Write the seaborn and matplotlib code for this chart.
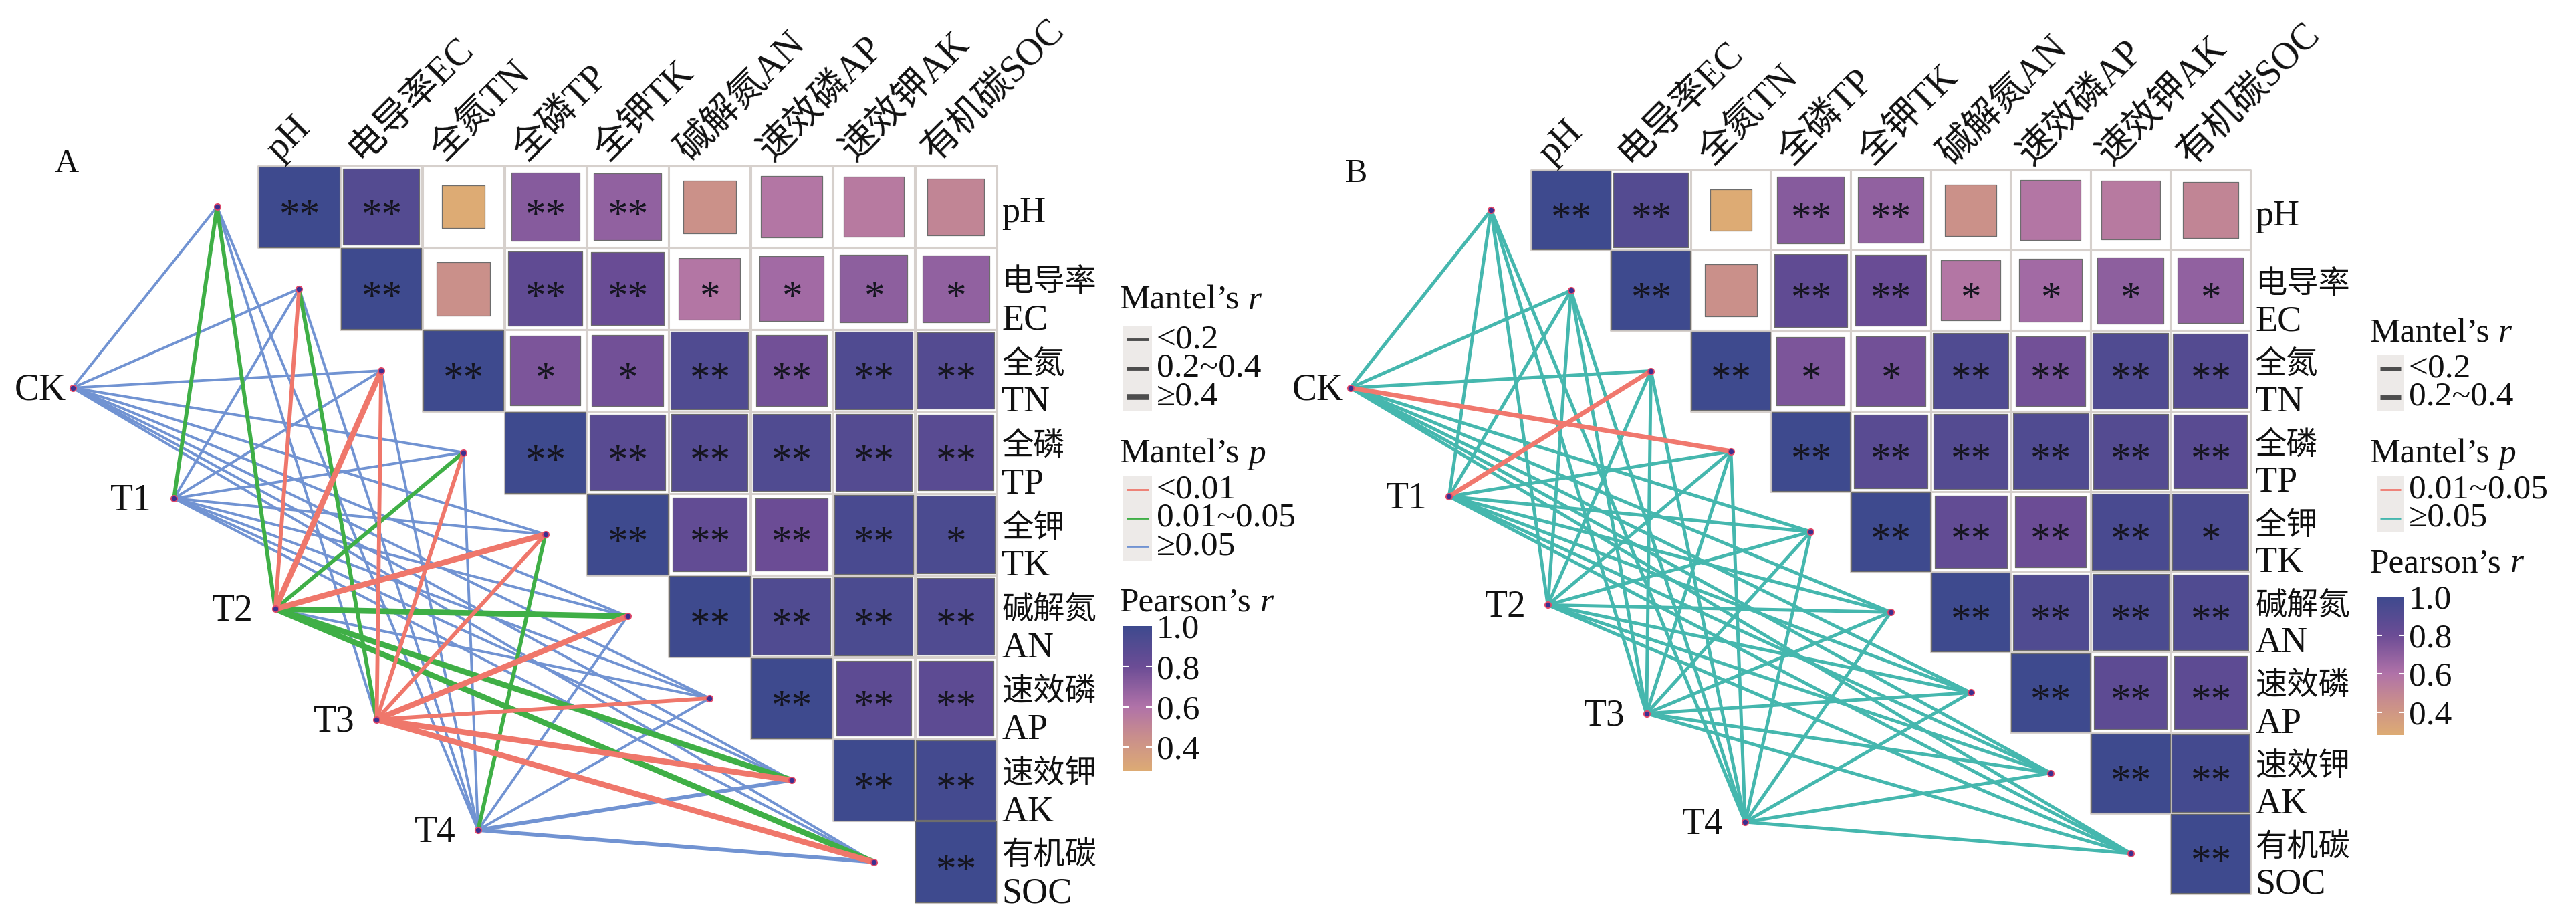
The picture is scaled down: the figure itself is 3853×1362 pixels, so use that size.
import numpy as np
import pandas as pd
import matplotlib
matplotlib.use("Agg")
import matplotlib.pyplot as plt
import seaborn as sns
from matplotlib.colors import LinearSegmentedColormap, Normalize
from matplotlib.cm import ScalarMappable
from matplotlib.patches import Rectangle

# ------------------------------------------------------------------ data
col_labels = ["pH", "电导率EC", "全氮TN", "全磷TP", "全钾TK", "碱解氮AN", "速效磷AP", "速效钾AK", "有机碳SOC"]
row_cn = ["", "电导率", "全氮", "全磷", "全钾", "碱解氮", "速效磷", "速效钾", "有机碳"]
row_en = ["pH", "EC", "TN", "TP", "TK", "AN", "AP", "AK", "SOC"]
groups = ["CK", "T1", "T2", "T3", "T4"]

# Pearson's r, upper triangle (row i, columns i..8)
pearson_r = [
    [1.00, 0.90, 0.28, 0.72, 0.69, 0.43, 0.58, 0.56, 0.50],
    [1.00, 0.44, 0.85, 0.81, 0.58, 0.64, 0.70, 0.69],
    [1.00, 0.75, 0.78, 0.92, 0.78, 0.92, 0.90],
    [1.00, 0.88, 0.90, 0.92, 0.90, 0.88],
    [1.00, 0.84, 0.80, 0.95, 0.94],
    [1.00, 0.92, 0.94, 0.92],
    [1.00, 0.86, 0.86],
    [1.00, 0.97],
    [1.00],
]
pearson_sig = [
    ["**", "**", "", "**", "**", "", "", "", ""],
    ["**", "", "**", "**", "*", "*", "*", "*"],
    ["**", "*", "*", "**", "**", "**", "**"],
    ["**", "**", "**", "**", "**", "**"],
    ["**", "**", "**", "**", "*"],
    ["**", "**", "**", "**"],
    ["**", "**", "**"],
    ["**", "**"],
    ["**"],
]

# Mantel tests: rows = groups (CK..T4), columns = soil variables
mantel_r_A = [
    [0.12, 0.10, 0.11, 0.09, 0.10, 0.08, 0.11, 0.12, 0.10],
    [0.27, 0.13, 0.12, 0.10, 0.09, 0.11, 0.12, 0.13, 0.12],
    [0.31, 0.34, 0.43, 0.30, 0.47, 0.41, 0.15, 0.46, 0.52],
    [0.14, 0.29, 0.33, 0.32, 0.37, 0.44, 0.30, 0.48, 0.53],
    [0.08, 0.09, 0.11, 0.12, 0.27, 0.10, 0.13, 0.23, 0.25],
]
mantel_p_A = [
    [0.41, 0.37, 0.29, 0.52, 0.33, 0.46, 0.39, 0.31, 0.44],
    [0.031, 0.21, 0.27, 0.36, 0.42, 0.31, 0.25, 0.22, 0.29],
    [0.024, 0.008, 0.004, 0.028, 0.003, 0.016, 0.12, 0.014, 0.011],
    [0.18, 0.037, 0.007, 0.009, 0.006, 0.003, 0.009, 0.002, 0.001],
    [0.47, 0.38, 0.29, 0.33, 0.043, 0.21, 0.17, 0.081, 0.068],
]
mantel_r_B = [
    [0.11, 0.13, 0.09, 0.26, 0.12, 0.10, 0.08, 0.11, 0.10],
    [0.12, 0.10, 0.23, 0.11, 0.13, 0.09, 0.10, 0.12, 0.11],
    [0.10, 0.12, 0.11, 0.09, 0.13, 0.12, 0.10, 0.11, 0.09],
    [0.09, 0.11, 0.10, 0.12, 0.10, 0.13, 0.11, 0.09, 0.12],
    [0.13, 0.09, 0.12, 0.10, 0.11, 0.10, 0.12, 0.13, 0.11],
]
mantel_p_B = [
    [0.38, 0.27, 0.44, 0.032, 0.31, 0.52, 0.47, 0.35, 0.41],
    [0.29, 0.46, 0.041, 0.33, 0.24, 0.55, 0.42, 0.30, 0.37],
    [0.43, 0.31, 0.36, 0.49, 0.22, 0.28, 0.45, 0.34, 0.51],
    [0.50, 0.36, 0.42, 0.27, 0.40, 0.21, 0.33, 0.48, 0.26],
    [0.23, 0.49, 0.30, 0.44, 0.35, 0.47, 0.28, 0.25, 0.39],
]

r_bins = [-np.inf, 0.2, 0.4, np.inf]
r_levels = ["<0.2", "0.2~0.4", "≥0.4"]
p_bins = [0, 0.01, 0.05, np.inf]
p_levels = ["<0.01", "0.01~0.05", "≥0.05"]
cbar_ticks = [0.4, 0.6, 0.8, 1.0]

# ------------------------------------------------------------------ style
W, H, DPI = 3853, 1362, 100
sns.set_theme(style="white")
plt.rcParams["font.family"] = ["Liberation Serif", "Noto Sans CJK SC", "DejaVu Sans"]
plt.rcParams["lines.solid_capstyle"] = "round"
TXT = "#111111"
LEG_FS = 37
norm_lo, norm_hi = 0.28, 1.0
cmap = LinearSegmentedColormap.from_list(
    "pear",
    [(0.0, "#DDAB74"), ((0.45 - norm_lo) / (norm_hi - norm_lo), "#C98E8C"),
     ((0.60 - norm_lo) / (norm_hi - norm_lo), "#B072A8"),
     ((0.80 - norm_lo) / (norm_hi - norm_lo), "#6B4C95"), (1.0, "#3E4A8E")])

panels = [
    dict(name="A", hm=(386, 248, 1491, 1350), lab=(82, 257), mr=mantel_r_A, mp=mantel_p_A,
         pal={"<0.01": "#EF776B", "0.01~0.05": "#3FAF46", "≥0.05": "#7193D2"},
         widths={"<0.2": 2.8, "0.2~0.4": 4.2, "≥0.4": 6.2},
         leg=dict(x=1675, t1=462, box1=487, key1=508, t2=692, box2=711, key2=732, t3=914,
                  cb=(936, 1153), kx=(1680, 1723), labx=1730)),
    dict(name="B", hm=(2290, 254, 3366, 1336), lab=(2012, 272), mr=mantel_r_B, mp=mantel_p_B,
         pal={"<0.01": "#EF776B", "0.01~0.05": "#F0786E", "≥0.05": "#45B7AE"},
         widths={"<0.2": 3.6, "0.2~0.4": 5.0, "≥0.4": 6.4},
         leg=dict(x=3545, t1=511, box1=530, key1=551, t2=692, box2=711, key2=732, t3=855,
                  cb=(892, 1099), kx=(3555, 3596), labx=3603)),
]
KSTEP = 42.5
XMIN = -3.0


def var_pos(k):
    return k - 0.5, k + 0.5


def grp_pos(g):
    return -2.26 + 1.235 * g, 2.71 + 1.35 * g


fig = plt.figure(figsize=(W / DPI, H / DPI), dpi=DPI)
ov = fig.add_axes([0, 0, 1, 1])
ov.set_xlim(0, W)
ov.set_ylim(H, 0)
ov.axis("off")
renderer = fig.canvas.get_renderer()


def title_with_italic(x, y, main, ital):
    t = ov.text(x, y, main, fontsize=LEG_FS, ha="left", va="baseline", color=TXT)
    bb = t.get_window_extent(renderer=renderer)
    xd = ov.transData.inverted().transform((bb.x1, bb.y0))[0]
    ov.text(xd + 0.25 * LEG_FS * DPI / 72, y, ital, fontsize=LEG_FS, fontstyle="italic",
            ha="left", va="baseline", color=TXT)


tiles = pd.DataFrame(
    [(i, j, pearson_r[i][j - i], pearson_sig[i][j - i]) for i in range(9) for j in range(i, 9)],
    columns=["row", "col", "r", "sig"])
tiles["x"] = tiles["col"] + 0.5
tiles["y"] = tiles["row"] + 0.5
tiles["absr"] = tiles["r"].abs()

for P in panels:
    x0, y0, x1, y1 = P["hm"]
    cw, ch = (x1 - x0) / 9, (y1 - y0) / 9
    left = x0 + XMIN * cw
    ax = fig.add_axes([left / W, 1 - y1 / H, (x1 - left) / W, (y1 - y0) / H])
    cell_pt = min(cw, ch) * 72 / DPI

    # cell frames of the upper triangle
    sns.scatterplot(data=tiles, x="x", y="y", marker="s", s=cell_pt ** 2, color="white",
                    edgecolor="#D6D0CC", linewidth=2.2, legend=False, ax=ax, zorder=1)

    # sized + coloured squares
    sns.scatterplot(data=tiles, x="x", y="y", hue="r", palette=cmap, hue_norm=(norm_lo, norm_hi),
                    size="absr", sizes=(0, (cell_pt * 0.985) ** 2), size_norm=(0, 1),
                    marker="s", edgecolor="#6d6d6d", linewidth=0.9, legend=False, ax=ax, zorder=3)
    for _, t in tiles.iterrows():
        if t["sig"]:
            ax.text(t["x"], t["y"] + 0.24, t["sig"], ha="center", va="baseline",
                    fontsize=44, color="#15151f", zorder=4)

    # network
    recs = []
    for g in range(len(groups)):
        for k in range(len(row_en)):
            eid = g * len(row_en) + k
            gx, gy = grp_pos(g)
            vx, vy = var_pos(k)
            for xx, yy in ((gx, gy), (vx, vy)):
                recs.append(dict(edge=eid, x=xx, y=yy, r=P["mr"][g][k], p=P["mp"][g][k]))
    net = pd.DataFrame(recs)
    net["r_cat"] = pd.cut(net["r"], r_bins, labels=r_levels, right=False).astype(str)
    net["p_cat"] = pd.cut(net["p"], p_bins, labels=p_levels, right=False).astype(str)
    sns.lineplot(data=net, x="x", y="y", units="edge", estimator=None,
                 hue="p_cat", hue_order=p_levels[::-1], palette=P["pal"],
                 size="r_cat", size_order=r_levels, sizes=P["widths"],
                 legend=False, ax=ax, zorder=2)

    nodes = pd.DataFrame([grp_pos(g) for g in range(5)] + [var_pos(k) for k in range(9)],
                         columns=["x", "y"])
    sns.scatterplot(data=nodes, x="x", y="y", s=45, color="#3B2F8F", edgecolor="#E24A6A",
                    linewidth=1.3, legend=False, ax=ax, zorder=6)

    # group labels
    for g, name in enumerate(groups):
        gx, gy = grp_pos(g)
        off = 0.08 if g == 0 else 0.27
        ax.text(gx - off, gy + 0.03, name, ha="right", va="center", fontsize=40, color=TXT)

    # column labels
    for j, lab in enumerate(col_labels):
        ax.text(j + 0.5 - 0.24, -0.05, lab, rotation=45, rotation_mode="anchor",
                ha="left", va="baseline", fontsize=40, color=TXT)
    # row labels
    for i in range(9):
        if row_cn[i]:
            ax.text(9.06, i + 0.53, row_cn[i], ha="left", va="baseline", fontsize=34, color=TXT)
            ax.text(9.06, i + 1.0, row_en[i], ha="left", va="baseline", fontsize=39, color=TXT)
        else:
            ax.text(9.06, i + 0.69, row_en[i], ha="left", va="baseline", fontsize=39, color=TXT)

    ax.set_xlim(XMIN, 9)
    ax.set_ylim(9, 0)
    ax.axis("off")
    for art in ax.get_children():
        try:
            art.set_clip_on(False)
        except Exception:
            pass

    # panel letter
    ov.text(P["lab"][0], P["lab"][1], P["name"], fontsize=36, ha="left", va="baseline", color=TXT)

    # ---------------- legends
    L = P["leg"]
    kx0, kx1 = L["kx"]
    r_present = [lv for lv in r_levels if lv in set(net["r_cat"])]
    p_present = [lv for lv in p_levels if lv in set(net["p_cat"])]

    title_with_italic(L["x"], L["t1"], "Mantel’s", "r")
    ov.add_patch(Rectangle((kx0, L["box1"]), kx1 - kx0, KSTEP * len(r_present),
                           facecolor="#EDEAE8", edgecolor="none"))
    for n, lv in enumerate(r_present):
        yk = L["key1"] + n * KSTEP
        ov.plot([kx0 + 5, kx1 - 5], [yk, yk], color="#4d4d4d", lw=P["widths"][lv],
                solid_capstyle="butt")
        ov.text(L["labx"], yk, lv, fontsize=LEG_FS, ha="left", va="center", color=TXT)

    title_with_italic(L["x"], L["t2"], "Mantel’s", "p")
    ov.add_patch(Rectangle((kx0, L["box2"]), kx1 - kx0, KSTEP * len(p_present),
                           facecolor="#EDEAE8", edgecolor="none"))
    for n, lv in enumerate(p_present):
        yk = L["key2"] + n * KSTEP
        ov.plot([kx0 + 5, kx1 - 5], [yk, yk], color=P["pal"][lv], lw=2.0, solid_capstyle="butt")
        ov.text(L["labx"], yk, lv, fontsize=LEG_FS, ha="left", va="center", color=TXT)

    title_with_italic(L["x"], L["t3"], "Pearson’s", "r")
    cb0, cb1 = L["cb"]
    cax = fig.add_axes([kx0 / W, 1 - cb1 / H, (kx1 - kx0) / W, (cb1 - cb0) / H])
    cb = fig.colorbar(ScalarMappable(norm=Normalize(norm_lo, norm_hi), cmap=cmap), cax=cax,
                      ticks=cbar_ticks)
    cb.outline.set_visible(False)
    cax.set_yticklabels([f"{t:.1f}" for t in cbar_ticks])
    cax.tick_params(axis="y", length=0, labelsize=LEG_FS, pad=5, colors=TXT)
    cax.hlines(cbar_ticks[:-1], 0, 0.2, colors="white", lw=1.5)
    cax.hlines(cbar_ticks[:-1], 0.8, 1.0, colors="white", lw=1.5)
    cax.set_xlim(0, 1)
    cax.set_ylim(norm_lo, norm_hi)

fig.savefig("out.png", dpi=DPI)
